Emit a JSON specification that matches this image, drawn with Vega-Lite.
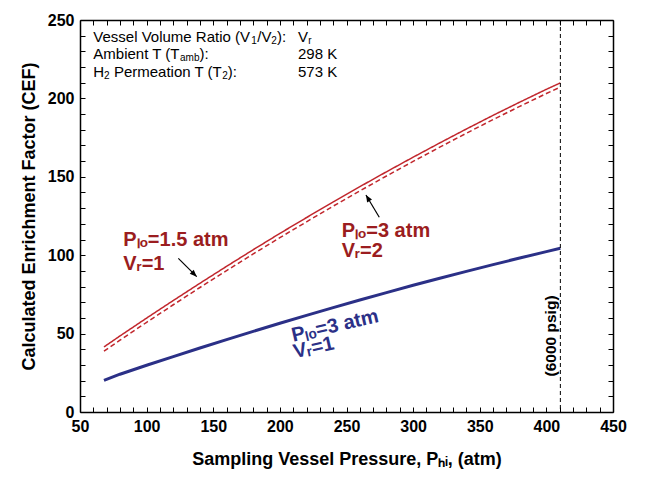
{
  "$schema": "https://vega.github.io/schema/vega-lite/v6.json",
  "width": 533,
  "height": 392,
  "autosize": {"type": "none"},
  "padding": {"left": 80, "top": 20, "right": 33, "bottom": 65},
  "background": "white",
  "config": {
    "font": "Liberation Sans",
    "view": {"stroke": null},
    "axis": {
      "grid": false,
      "domainColor": "black",
      "domainWidth": 1.5,
      "tickColor": "black",
      "tickWidth": 1,
      "tickSize": -5,
      "labelPadding": 11,
      "labelFlush": false,
      "labelFont": "Liberation Sans",
      "labelFontWeight": "bold",
      "labelFontSize": 16,
      "labelColor": "black",
      "labelOverlap": false,
      "labelBound": false,
      "titleFont": "Liberation Sans",
      "titleFontWeight": "bold",
      "titleFontSize": 18,
      "titleColor": "black"
    }
  },
  "datasets": {
    "series": [
      {"P": 68, "CEF": 41.5, "s": "r1"}, {"P": 80, "CEF": 48.5, "s": "r1"}, {"P": 100, "CEF": 59.9, "s": "r1"}, {"P": 120, "CEF": 71.1, "s": "r1"}, {"P": 140, "CEF": 82.1, "s": "r1"}, {"P": 160, "CEF": 92.9, "s": "r1"}, {"P": 180, "CEF": 103.5, "s": "r1"}, {"P": 200, "CEF": 113.9, "s": "r1"}, {"P": 220, "CEF": 124.0, "s": "r1"}, {"P": 240, "CEF": 134.0, "s": "r1"}, {"P": 260, "CEF": 143.7, "s": "r1"}, {"P": 280, "CEF": 153.2, "s": "r1"}, {"P": 300, "CEF": 162.5, "s": "r1"}, {"P": 320, "CEF": 171.6, "s": "r1"}, {"P": 340, "CEF": 180.5, "s": "r1"}, {"P": 360, "CEF": 189.2, "s": "r1"}, {"P": 380, "CEF": 197.6, "s": "r1"}, {"P": 400, "CEF": 205.8, "s": "r1"}, {"P": 410.5, "CEF": 209.9, "s": "r1"},
      {"P": 68, "CEF": 38.8, "s": "r2"}, {"P": 80, "CEF": 45.8, "s": "r2"}, {"P": 100, "CEF": 57.2, "s": "r2"}, {"P": 120, "CEF": 68.4, "s": "r2"}, {"P": 140, "CEF": 79.4, "s": "r2"}, {"P": 160, "CEF": 90.2, "s": "r2"}, {"P": 180, "CEF": 100.8, "s": "r2"}, {"P": 200, "CEF": 111.2, "s": "r2"}, {"P": 220, "CEF": 121.3, "s": "r2"}, {"P": 240, "CEF": 131.3, "s": "r2"}, {"P": 260, "CEF": 141.0, "s": "r2"}, {"P": 280, "CEF": 150.5, "s": "r2"}, {"P": 300, "CEF": 159.8, "s": "r2"}, {"P": 320, "CEF": 168.9, "s": "r2"}, {"P": 340, "CEF": 177.8, "s": "r2"}, {"P": 360, "CEF": 186.5, "s": "r2"}, {"P": 380, "CEF": 194.9, "s": "r2"}, {"P": 400, "CEF": 203.1, "s": "r2"}, {"P": 410.5, "CEF": 207.2, "s": "r2"},
      {"P": 68, "CEF": 20.2, "s": "b1"}, {"P": 80, "CEF": 24.1, "s": "b1"}, {"P": 100, "CEF": 29.8, "s": "b1"}, {"P": 120, "CEF": 35.3, "s": "b1"}, {"P": 140, "CEF": 40.8, "s": "b1"}, {"P": 160, "CEF": 46.2, "s": "b1"}, {"P": 180, "CEF": 51.4, "s": "b1"}, {"P": 200, "CEF": 56.6, "s": "b1"}, {"P": 220, "CEF": 61.6, "s": "b1"}, {"P": 240, "CEF": 66.6, "s": "b1"}, {"P": 260, "CEF": 71.4, "s": "b1"}, {"P": 280, "CEF": 76.1, "s": "b1"}, {"P": 300, "CEF": 80.8, "s": "b1"}, {"P": 320, "CEF": 85.3, "s": "b1"}, {"P": 340, "CEF": 89.7, "s": "b1"}, {"P": 360, "CEF": 94.0, "s": "b1"}, {"P": 380, "CEF": 98.2, "s": "b1"}, {"P": 400, "CEF": 102.3, "s": "b1"}, {"P": 410.5, "CEF": 104.4, "s": "b1"}
    ]
  },
  "layer": [
    {
      "data": {"name": "series"},
      "transform": [{"filter": "datum.s !== 'b1'"}],
      "mark": {"type": "line", "interpolate": "linear", "strokeWidth": 1.5, "color": "#c1272d"},
      "encoding": {
        "x": {"field": "P", "type": "quantitative", "scale": {"domain": [50, 450], "nice": false},
              "axis": {"orient": "bottom", "title": "Sampling Vessel Pressure, Pₕᵢ, (atm)", "titlePadding": 16,
                       "values": [50,60,70,80,90,100,110,120,130,140,150,160,170,180,190,200,210,220,230,240,250,260,270,280,290,300,310,320,330,340,350,360,370,380,390,400,410,420,430,440,450],
                       "labelExpr": "datum.value % 50 === 0 ? datum.label : ''"}},
        "y": {"field": "CEF", "type": "quantitative", "scale": {"domain": [0, 250], "nice": false},
              "axis": {"orient": "left", "title": "Calculated Enrichment Factor (CEF)", "titlePadding": 9,
                       "values": [0,10,20,30,40,50,60,70,80,90,100,110,120,130,140,150,160,170,180,190,200,210,220,230,240,250],
                       "labelExpr": "datum.value % 50 === 0 ? datum.label : ''"}},
        "detail": {"field": "s", "type": "nominal"},
        "strokeDash": {"field": "s", "type": "nominal", "scale": {"domain": ["r1", "r2"], "range": [[1, 0], [5, 3]]}, "legend": null}
      }
    },
    {
      "data": {"name": "series"},
      "transform": [{"filter": "datum.s === 'b1'"}],
      "mark": {"type": "line", "interpolate": "linear", "strokeWidth": 3, "color": "#2b3087"},
      "encoding": {
        "x": {"field": "P", "type": "quantitative", "axis": null},
        "y": {"field": "CEF", "type": "quantitative", "axis": null}
      }
    },
    {
      "data": {"name": "series"},
      "mark": {"type": "point", "opacity": 0},
      "encoding": {
        "x": {"field": "P", "type": "quantitative", "scale": {"domain": [50, 450], "nice": false},
              "axis": {"orient": "top", "title": null, "labels": false,
                       "values": [50,60,70,80,90,100,110,120,130,140,150,160,170,180,190,200,210,220,230,240,250,260,270,280,290,300,310,320,330,340,350,360,370,380,390,400,410,420,430,440,450]}},
        "y": {"field": "CEF", "type": "quantitative", "scale": {"domain": [0, 250], "nice": false},
              "axis": {"orient": "right", "title": null, "labels": false,
                       "values": [0,10,20,30,40,50,60,70,80,90,100,110,120,130,140,150,160,170,180,190,200,210,220,230,240,250]}}
      }
    },
    {
      "data": {"values": [{"P": 410.5}]},
      "mark": {"type": "rule", "color": "black", "strokeWidth": 1, "strokeDash": [4, 3]},
      "encoding": {"x": {"field": "P", "type": "quantitative", "axis": null}}
    },
    {
      "data": {"values": [{"t": "(6000 psig)", "P": 403.5, "C": 48.5}]},
      "mark": {"type": "text", "angle": 270, "align": "center", "baseline": "middle", "fontSize": 15.5, "fontWeight": "bold", "color": "black"},
      "encoding": {"x": {"field": "P", "type": "quantitative", "axis": null}, "y": {"field": "C", "type": "quantitative", "axis": null}, "text": {"field": "t"}}
    },
    {
      "data": {"values": [
        {"t": "Vessel Volume Ratio (V", "P": 59.98, "C": 239.4},
        {"t": "/V", "P": 183.06, "C": 239.4},
        {"t": "):", "P": 197.92, "C": 239.4},
        {"t": "Ambient T (T", "P": 59.98, "C": 228.1},
        {"t": "):", "P": 139.68, "C": 228.1},
        {"t": "H", "P": 59.98, "C": 217.0},
        {"t": "Permeation T (T", "P": 75.44, "C": 217.0},
        {"t": "):", "P": 160.92, "C": 217.0},
        {"t": "V", "P": 213.6, "C": 239.4},
        {"t": "298 K", "P": 213.6, "C": 228.1},
        {"t": "573 K", "P": 213.6, "C": 217.0}
      ]},
      "mark": {"type": "text", "align": "left", "baseline": "middle", "fontSize": 15, "color": "black"},
      "encoding": {"x": {"field": "P", "type": "quantitative", "axis": null}, "y": {"field": "C", "type": "quantitative", "axis": null}, "text": {"field": "t"}}
    },
    {
      "data": {"values": [
        {"t": "1", "P": 178.48, "C": 236.8},
        {"t": "2", "P": 193.48, "C": 236.8},
        {"t": "amb", "P": 125.05, "C": 225.5},
        {"t": "2", "P": 68.09, "C": 214.4},
        {"t": "2", "P": 156.72, "C": 214.4},
        {"t": "r", "P": 221.3, "C": 236.8}
      ]},
      "mark": {"type": "text", "align": "left", "baseline": "middle", "fontSize": 10, "color": "black"},
      "encoding": {"x": {"field": "P", "type": "quantitative", "axis": null}, "y": {"field": "C", "type": "quantitative", "axis": null}, "text": {"field": "t"}}
    },
    {
      "data": {"values": [
        {"t": "Pₗₒ=1.5 atm", "P": 82.5, "C": 105.9},
        {"t": "Vᵣ=1", "P": 82.5, "C": 90.6},
        {"t": "Pₗₒ=3 atm", "P": 246.4, "C": 111.8},
        {"t": "Vᵣ=2", "P": 246.4, "C": 99.0}
      ]},
      "mark": {"type": "text", "align": "left", "baseline": "alphabetic", "fontSize": 20, "fontWeight": "bold", "color": "#9b1d20"},
      "encoding": {"x": {"field": "P", "type": "quantitative", "axis": null}, "y": {"field": "C", "type": "quantitative", "axis": null}, "text": {"field": "t"}}
    },
    {
      "data": {"values": [
        {"t": "Pₗₒ=3 atm", "P": 210.1, "C": 44.8},
        {"t": "Vᵣ=1", "P": 211.4, "C": 34.2}
      ]},
      "mark": {"type": "text", "align": "left", "baseline": "alphabetic", "fontSize": 20, "fontWeight": "bold", "color": "#2b3087", "angle": 347},
      "encoding": {"x": {"field": "P", "type": "quantitative", "axis": null}, "y": {"field": "C", "type": "quantitative", "axis": null}, "text": {"field": "t"}}
    },
    {
      "data": {"values": [
        {"P": 123.8, "C": 98.0, "P2": 137.6, "C2": 86.3},
        {"P": 274.6, "C": 124.2, "P2": 264.6, "C2": 138.4}
      ]},
      "mark": {"type": "rule", "color": "black", "strokeWidth": 1.2},
      "encoding": {"x": {"field": "P", "type": "quantitative", "axis": null}, "y": {"field": "C", "type": "quantitative", "axis": null}, "x2": {"field": "P2"}, "y2": {"field": "C2"}}
    },
    {
      "data": {"values": [
        {"P": 137.6, "C": 86.3, "a": 135},
        {"P": 264.6, "C": 138.4, "a": -30.8}
      ]},
      "mark": {"type": "point", "shape": "M0,0L-0.4,1L0.4,1Z", "filled": true, "color": "black", "opacity": 1, "size": 200},
      "encoding": {"x": {"field": "P", "type": "quantitative", "axis": null}, "y": {"field": "C", "type": "quantitative", "axis": null}, "angle": {"field": "a", "type": "quantitative", "scale": null}}
    }
  ],
  "resolve": {"axis": {"x": "independent", "y": "independent"}}
}
